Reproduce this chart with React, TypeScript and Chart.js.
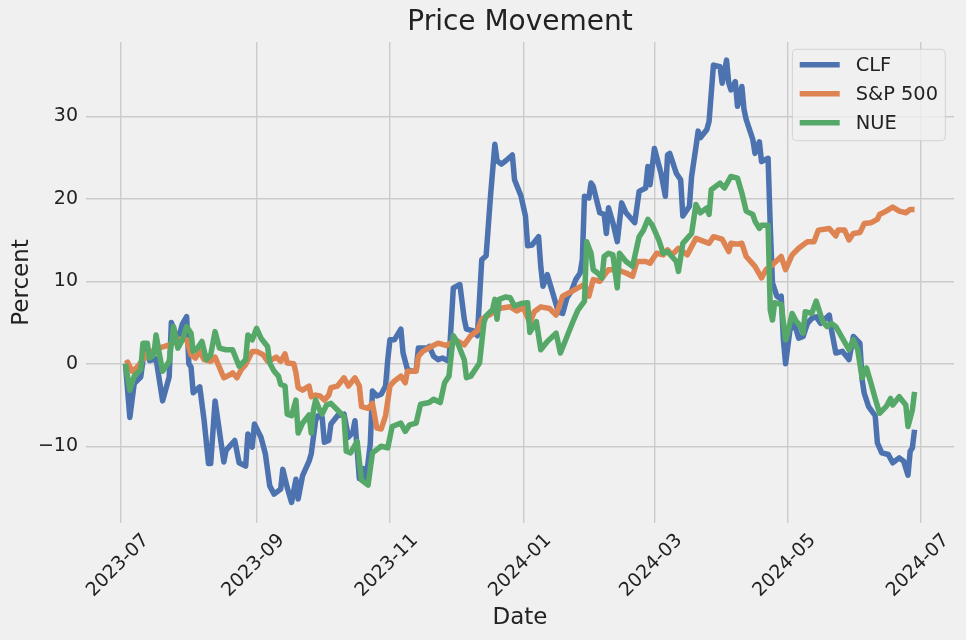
import React, { useEffect, useRef } from "react";
import { Chart, registerables } from "chart.js";

Chart.register(...registerables);

// ---------------- data ----------------
const START_DATE = "2023-07-01"; // day 0 of the day offsets below
const seriesNames = ["CLF", "S&P 500", "NUE"];
const seriesColors = ["#4C72B0", "#DD8452", "#55A868"];

const xTickLabels = ["2023-07", "2023-09", "2023-11", "2024-01", "2024-03", "2024-05", "2024-07"];
const yTicks = [-10, 0, 10, 20, 30];
const yRange = [-19.3, 39.0];

// days since START_DATE / percent change
const clfDays = [2, 4, 6, 9, 11, 13, 16, 19, 22, 23, 26, 28, 30, 31, 32, 33, 36, 38, 40, 41, 43, 47, 48, 52, 54, 57, 58, 60, 61, 64, 66, 68, 70, 73, 74, 76, 78, 80, 81, 83, 86, 87, 89, 90, 92, 93, 95, 96, 99, 102, 104, 106, 107, 109, 111, 112, 114, 115, 117, 119, 121, 122, 123, 125, 128, 129, 131, 133, 135, 136, 140, 141, 143, 145, 147, 150, 152, 155, 157, 158, 161, 163, 165, 167, 169, 171, 172, 174, 176, 179, 180, 183, 185, 186, 188, 191, 192, 193, 195, 197, 200, 202, 204, 206, 208, 210, 211, 212, 214, 215, 216, 219, 221, 222, 223, 225, 227, 229, 231, 235, 237, 240, 241, 242, 244, 247, 249, 250, 251, 254, 256, 257, 260, 261, 263, 264, 265, 268, 269, 271, 274, 275, 277, 278, 279, 281, 282, 284, 285, 286, 289, 290, 292, 293, 296, 297, 298, 300, 301, 302, 303, 304, 306, 308, 310, 312, 314, 316, 318, 320, 324, 325, 327, 330, 333, 335, 338, 339, 340, 342, 345, 346, 348, 351, 353, 356, 358, 360, 361, 362, 363];
const clfValues = [0, -6.5, -2.4, -1.6, 2.4, 0.4, 0.6, -4.5, -1.6, 5.0, 2.8, 4.8, 5.7, 0, -0.4, -3.5, -2.8, -6.9, -12.1, -12.1, -4.5, -11.9, -10.5, -9.3, -12, -12.4, -8.5, -10.1, -7.3, -8.9, -10.9, -14.8, -15.8, -15.2, -12.8, -15, -16.8, -14, -16.4, -13.6, -11.8, -10.9, -6.9, -6.3, -6.5, -9.5, -9.3, -7.3, -6.3, -6.1, -8.9, -8.3, -6.9, -13.9, -12.7, -14.2, -9.7, -3.3, -3.9, -3.7, -2.7, 0.5, 2.9, 2.9, 4.2, 1.3, -0.7, -0.9, -0.8, 1.9, 1.9, 2.1, 0.9, 0.5, 0.7, 0.3, 9.2, 9.6, 5.4, 4.2, 4.0, 3.4, 12.6, 13.1, 20.3, 26.6, 24.6, 24.2, 24.6, 25.3, 22.3, 20.3, 17.9, 14.3, 14.4, 15.4, 11.8, 9.4, 10.8, 9.0, 6.3, 6.1, 8.0, 8.8, 10.2, 11, 12.6, 20.3, 20.1, 21.9, 21.5, 18.3, 18.1, 15.8, 18.9, 17.1, 14.8, 19.5, 18.3, 17.1, 20.9, 21.3, 23.9, 21.7, 26.1, 23.1, 20.3, 25.3, 25.5, 23.1, 22.3, 17.9, 19.1, 22.7, 26.3, 28.2, 27.4, 28.4, 29.4, 36.2, 36, 34, 36.8, 34, 33.2, 34.2, 31.2, 33.6, 30.8, 29.6, 27.2, 25.5, 26.9, 24.5, 24.9, 16.6, 9.8, 8.2, 8.0, 8.2, 2.9, 0, 4.1, 4.9, 3.1, 3.3, 4.9, 5.5, 5.7, 4.9, 5.9, 4.1, 1.3, 1.5, 0.5, 3.3, 2.5, -1.9, -3.6, -5.2, -6.3, -9.6, -10.8, -11, -12, -11.4, -11.8, -13.5, -10.6, -10.2, -8];

const spxDays = [2, 3, 5, 7, 10, 12, 14, 17, 20, 23, 27, 30, 32, 34, 36, 38, 41, 43, 47, 50, 51, 53, 55, 57, 60, 62, 65, 67, 69, 71, 73, 75, 76, 79, 80, 81, 83, 86, 87, 89, 91, 93, 95, 96, 99, 102, 104, 107, 109, 110, 113, 115, 117, 119, 121, 123, 125, 128, 130, 131, 135, 136, 138, 142, 145, 149, 153, 157, 160, 163, 165, 169, 172, 175, 178, 181, 184, 186, 187, 189, 192, 196, 199, 202, 205, 209, 212, 214, 216, 219, 223, 227, 231, 234, 236, 240, 242, 245, 248, 250, 252, 255, 259, 263, 269, 271, 275, 278, 279, 282, 284, 286, 290, 293, 295, 298, 302, 304, 307, 310, 314, 317, 319, 324, 327, 328, 331, 333, 335, 338, 340, 343, 346, 347, 350, 353, 356, 359, 361, 363];
const spxValues = [0, 0.2, -0.9, -0.5, 0.5, 1.3, 1.5, 1.9, 2.1, 2.4, 3.0, 2.9, 1.1, 0.7, 1.5, 0.5, 0.3, 0.8, -1.7, -1.3, -1.1, -1.7, -0.7, -0.1, 1.5, 1.5, 1.1, 0.3, 0.5, 0.8, 0.3, 1.2, 0.1, 0, -1.1, -2.9, -3.2, -2.7, -4, -3.8, -3.9, -4.4, -3.8, -2.9, -2.7, -1.7, -2.7, -1.7, -2.7, -5.2, -5.4, -4.8, -7.8, -7.9, -6.3, -2.7, -2.1, -1.5, -2.3, -0.9, -0.9, 0.9, 1.5, 2.1, 2.5, 2.2, 2.9, 2.3, 3.4, 4.0, 5.4, 6.0, 6.6, 6.8, 6.9, 6.4, 6.8, 5.6, 4.9, 6.3, 6.9, 6.7, 5.9, 8.2, 8.6, 9.2, 9.6, 8.2, 10.2, 10, 11.4, 11.4, 11, 10.6, 12.4, 12.4, 12.2, 13.4, 13.2, 13.8, 13.2, 14, 13.2, 15.2, 14.6, 15.4, 15.1, 13.6, 14.6, 14.5, 14.6, 13, 11.8, 10.4, 11.4, 12, 13, 11.4, 13.2, 14, 14.8, 14.8, 16.2, 16.4, 15.5, 16.2, 16.2, 15, 15.8, 15.9, 17, 17.1, 17.5, 18.1, 18.5, 19, 18.5, 18.3, 18.7, 18.7];

const nueDays = [2, 4, 6, 9, 10, 12, 13, 15, 16, 18, 19, 22, 24, 26, 28, 30, 32, 33, 35, 37, 39, 41, 43, 45, 48, 51, 54, 57, 58, 60, 62, 64, 67, 68, 70, 72, 73, 75, 76, 78, 80, 81, 83, 86, 87, 88, 89, 91, 92, 94, 96, 99, 102, 103, 105, 108, 109, 110, 113, 115, 117, 119, 122, 124, 128, 130, 132, 135, 137, 141, 143, 146, 148, 150, 152, 154, 157, 158, 160, 163, 164, 166, 167, 170, 171, 172, 173, 176, 178, 180, 183, 186, 187, 190, 192, 195, 199, 201, 204, 207, 209, 212, 213, 215, 216, 218, 220, 221, 223, 225, 227, 228, 231, 234, 237, 239, 241, 243, 246, 248, 250, 252, 254, 255, 257, 261, 263, 265, 268, 269, 270, 274, 276, 279, 282, 284, 286, 289, 290, 292, 293, 296, 297, 298, 299, 302, 304, 305, 307, 309, 311, 312, 313, 316, 318, 321, 323, 325, 327, 330, 333, 335, 337, 339, 341, 343, 345, 347, 350, 352, 353, 356, 359, 360, 362, 363];
const nueValues = [0, -3.2, -1.5, -0.7, 2.5, 2.5, 0.7, 1.1, 3.5, 0.5, -0.9, 0.3, 4.5, 1.9, 2.9, 4.5, 3.7, 1.5, 1.9, 2.7, 0.5, 1.1, 3.9, 1.9, 1.7, 1.7, -0.3, 0.5, 3.5, 2.9, 4.3, 3.1, 2.1, 0.1, -0.9, -1.5, -2.5, -2.7, -6.1, -6.3, -4.4, -8.4, -7.2, -6.2, -8.4, -5.6, -4.4, -5.7, -6.1, -5.0, -4.8, -5.6, -6.4, -10.6, -10.8, -9.4, -11.8, -14.1, -14.7, -10.8, -10.4, -10, -10.2, -7.6, -7.2, -8.2, -7.4, -7.2, -4.9, -4.7, -4.3, -4.7, -2.3, -1.5, 3.4, 2.5, 0.5, -1.7, -1.5, -0.3, 0.1, 5.0, 5.8, 6.6, 7.8, 5.4, 7.8, 8.1, 8.0, 7.0, 7.3, 7.4, 3.8, 5.1, 1.7, 2.7, 3.7, 1.3, 3.3, 5.3, 6.5, 7.6, 14.8, 13.4, 11.4, 11, 10.4, 13, 13.4, 13.2, 9.2, 13.4, 12.4, 11.8, 15.4, 16.2, 17.5, 16.8, 15, 13.4, 13.6, 13, 12.4, 11.2, 14.6, 15.8, 19.3, 18.3, 18.9, 18.1, 21.1, 21.9, 21.3, 22.7, 22.5, 20.7, 18.5, 18.1, 17.3, 16.4, 16.8, 16.8, 6.5, 5.3, 7.4, 7.2, 2.9, 3.7, 6.1, 5.1, 4.5, 3.7, 6.3, 6.1, 7.6, 5.1, 4.5, 4.9, 4.5, 3.1, 1.7, 2.9, 1.7, -1.7, -0.5, -2.3, -4.2, -6, -5.2, -4.2, -5, -4, -5, -7.6, -5.6, -3.4];

// ---------------- helpers ----------------
const FONT = '"DejaVu Sans", "Liberation Sans", sans-serif';
const TEXT = "#222222";
const BG = "#f0f0f0";
const GRID = "#cbcbcb";

const dayOf = (s: string) => {
  const p = (v: string) => {
    const [y, m, d] = v.split("-").map(Number);
    return Date.UTC(y, m - 1, d || 1);
  };
  return (p(s) - p(START_DATE)) / 86400000;
};
const xTickDays = xTickLabels.map(dayOf);

const allDays = [...clfDays, ...spxDays, ...nueDays];
const dMin = Math.min(...allDays);
const dMax = Math.max(...allDays);
const xMargin = (dMax - dMin) * 0.05;

const toPoints = (days: number[], vals: number[]) => days.map((d, i) => ({ x: d, y: vals[i] }));
const seriesData = [toPoints(clfDays, clfValues), toPoints(spxDays, spxValues), toPoints(nueDays, nueValues)];

const fmtNum = (v: number) => (v < 0 ? "\u2212" + Math.abs(v) : String(v));

const legendPlugin = {
  id: "mplLegend",
  afterDatasetsDraw(chart: any) {
    const { ctx, chartArea } = chart;
    const size = 19.4;
    ctx.save();
    ctx.font = `${size}px ${FONT}`;
    const names: string[] = chart.data.datasets.map((d: any) => d.label);
    const textW = Math.max(...names.map((n) => ctx.measureText(n).width));
    const padL = 7.3, handle = 40, gap = 16, padR = 7.3;
    const w = padL + handle + gap + textW + padR;
    const h = 91.4;
    const right = chartArea.right - 8.7;
    const left = right - w;
    const top = chartArea.top + 7.3;
    const r = 4;
    ctx.beginPath();
    ctx.moveTo(left + r, top);
    ctx.lineTo(left + w - r, top);
    ctx.arcTo(left + w, top, left + w, top + r, r);
    ctx.lineTo(left + w, top + h - r);
    ctx.arcTo(left + w, top + h, left + w - r, top + h, r);
    ctx.lineTo(left + r, top + h);
    ctx.arcTo(left, top + h, left, top + h - r, r);
    ctx.lineTo(left, top + r);
    ctx.arcTo(left, top, left + r, top, r);
    ctx.closePath();
    ctx.fillStyle = "rgba(240,240,240,0.8)";
    ctx.fill();
    ctx.strokeStyle = "rgba(204,204,204,0.8)";
    ctx.lineWidth = 1;
    ctx.stroke();
    chart.data.datasets.forEach((ds: any, i: number) => {
      const cy = top + 15.4 + i * 29;
      ctx.beginPath();
      ctx.moveTo(left + padL, cy);
      ctx.lineTo(left + padL + handle, cy);
      ctx.strokeStyle = ds.borderColor;
      ctx.lineWidth = 5.5;
      ctx.lineCap = "butt";
      ctx.stroke();
      ctx.fillStyle = TEXT;
      ctx.textAlign = "left";
      ctx.textBaseline = "middle";
      ctx.fillText(ds.label, left + padL + handle + gap, cy + 1.3);
    });
    ctx.restore();
  },
};

export default function App() {
  const ref = useRef<HTMLCanvasElement | null>(null);

  useEffect(() => {
    if (!ref.current) return;
    const chart = new Chart(ref.current, {
      type: "line",
      data: {
        datasets: seriesNames.map((name, i) => ({
          label: name,
          data: seriesData[i],
          borderColor: seriesColors[i],
          backgroundColor: seriesColors[i],
          borderWidth: 5.5,
          pointRadius: 0,
          pointHoverRadius: 0,
          tension: 0,
          borderJoinStyle: "round" as const,
          borderCapStyle: "butt" as const,
          fill: false,
          order: seriesNames.length - i,
        })),
      },
      options: {
        animation: false,
        responsive: false,
        devicePixelRatio: 1,
        events: [],
        layout: { padding: { left: 0, right: 12, top: 0, bottom: 0 } },
        plugins: {
          legend: { display: false },
          tooltip: { enabled: false },
          title: {
            display: true,
            text: "Price Movement",
            fullSize: false,
            color: TEXT,
            font: { family: FONT, size: 28, weight: "normal" as const },
            padding: { top: 6, bottom: 2.4 },
          },
        },
        scales: {
          x: {
            type: "linear",
            min: dMin - xMargin,
            max: dMax + xMargin,
            afterBuildTicks: (s: any) => {
              s.ticks = xTickDays.map((v) => ({ value: v }));
            },
            afterFit: (s: any) => {
              s.height = 117;
            },
            ticks: {
              autoSkip: false,
              minRotation: 45,
              maxRotation: 45,
              labelOffset: 25,
              padding: 6.5,
              color: TEXT,
              font: { family: FONT, size: 19 },
              callback: (_v: any, i: number) => xTickLabels[i],
            },
            grid: { color: GRID, lineWidth: 1.4, drawTicks: false },
            border: { display: false },
            title: {
              display: true,
              text: "Date",
              color: TEXT,
              font: { family: FONT, size: 23 },
              padding: { top: 0, bottom: 8.2 },
            },
          },
          y: {
            type: "linear",
            min: yRange[0],
            max: yRange[1],
            afterBuildTicks: (s: any) => {
              s.ticks = yTicks.map((v) => ({ value: v }));
            },
            afterFit: (s: any) => {
              s.width = 86;
            },
            ticks: {
              padding: 8,
              color: TEXT,
              font: { family: FONT, size: 19 },
              callback: (v: any) => fmtNum(Number(v)),
            },
            grid: { color: GRID, lineWidth: 1.4, drawTicks: false },
            border: { display: false },
            title: {
              display: true,
              text: "Percent",
              color: TEXT,
              font: { family: FONT, size: 23 },
              padding: { top: 8.6, bottom: 0 },
            },
          },
        },
      },
      plugins: [legendPlugin],
    } as any);
    return () => chart.destroy();
  }, []);

  return (
    <div style={{ position: "absolute", left: 0, top: 0, width: 966, height: 640, background: BG }}>
      <canvas ref={ref} width={966} height={640} style={{ display: "block" }} />
    </div>
  );
}
